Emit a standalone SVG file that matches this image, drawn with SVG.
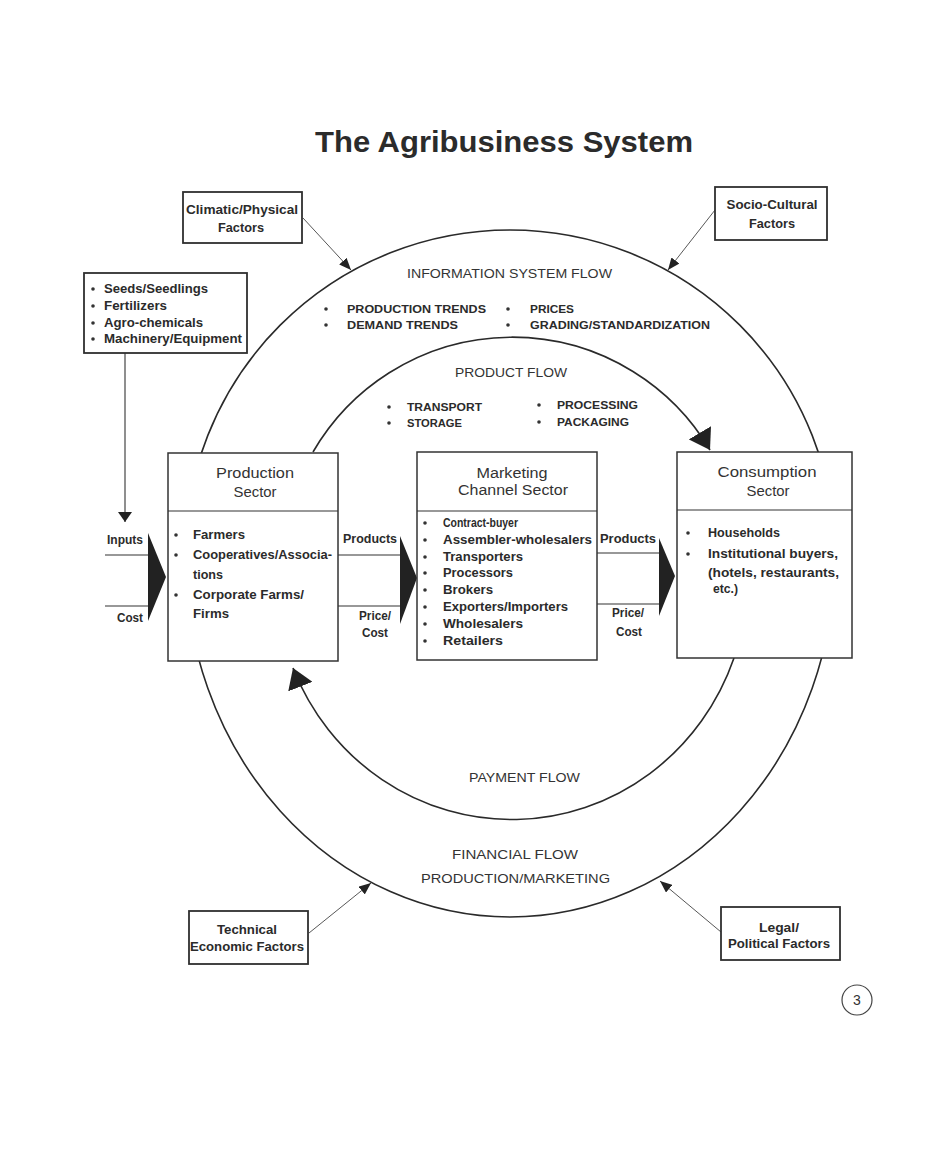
<svg xmlns="http://www.w3.org/2000/svg" width="929" height="1158" viewBox="0 0 929 1158">
  <defs>
    <marker id="bigHead" markerUnits="userSpaceOnUse" markerWidth="22" markerHeight="26" refX="20" refY="13" orient="auto">
      <path d="M0,0 L20,13 L0,26 z" fill="#222"/>
    </marker>
    <marker id="smallHead" markerUnits="userSpaceOnUse" markerWidth="13" markerHeight="10" refX="12" refY="5" orient="auto">
      <path d="M0,0 L12,5 L0,10 z" fill="#222"/>
    </marker>
    <marker id="inHead" markerUnits="userSpaceOnUse" markerWidth="11" markerHeight="14" refX="10" refY="7" orient="auto">
      <path d="M0,0 L10,7 L0,14 z" fill="#222"/>
    </marker>
  </defs>
  <style>
    .ring { fill: none; stroke: #2a2a2a; stroke-width: 1.6; }
    .ln { fill: none; stroke: #333; stroke-width: 1.1; }
    .thin { fill: none; stroke: #444; stroke-width: 0.9; }
    .box { fill: #fff; stroke: #333; stroke-width: 1.5; }
    .fbox { fill: #fff; stroke: #2f2f2f; stroke-width: 1.8; }
    .tri { fill: #222; }
    .dot { fill: #333; }
    .b { font-family: "Liberation Sans", Arial, sans-serif; font-weight: bold; fill: #2b2b2b; }
    .r { font-family: "Liberation Sans", Arial, sans-serif; fill: #333; }
    .fs12 { font-size: 12px; }
    .fs13 { font-size: 13px; }
    .fs14 { font-size: 14px; }
    .mid { text-anchor: middle; }
  </style>

  <rect width="929" height="1158" fill="#fff"/>

  <!-- heading -->
  <g id="title">
    <text class="b mid" x="504" y="152" font-size="30" fill="#222" textLength="378" lengthAdjust="spacingAndGlyphs">The Agribusiness System</text>
  </g>

  <!-- flows, rings and arrows -->
  <g id="connectors">
    <!-- outer information / financial ring -->
    <path class="ring" d="M185,555 A325,325 0 0 1 835,555 A325,362 0 0 1 185,555 Z"/>
    <!-- product flow arc -->
    <path class="ring" d="M313,452 A230,230 0 0 1 710,450" marker-end="url(#bigHead)"/>
    <!-- payment flow arc -->
    <path class="ring" d="M734,658 A236,243 0 0 1 293,668" marker-end="url(#bigHead)"/>

    <!-- external factor arrows -->
    <path class="thin" d="M303,218 L351,270" marker-end="url(#smallHead)"/>
    <path class="thin" d="M715,210 L668,270" marker-end="url(#smallHead)"/>
    <path class="thin" d="M309,933 L371,883" marker-end="url(#smallHead)"/>
    <path class="thin" d="M721,932 L660,881" marker-end="url(#smallHead)"/>

    <!-- inputs drop -->
    <path class="ln" d="M125,353 L125,522" marker-end="url(#inHead)"/>

    <!-- inputs / cost into production -->
    <path class="ln" d="M105,555 L149,555 M105,606 L149,606"/>
    <polygon class="tri" points="148,533 166,577 148,621"/>
    <!-- products / price between production and marketing -->
    <path class="ln" d="M338,555 L401,555 M338,606 L401,606"/>
    <polygon class="tri" points="400,536 417,578 400,624"/>
    <!-- products / price between marketing and consumption -->
    <path class="ln" d="M597,553 L660,553 M597,604 L660,604"/>
    <polygon class="tri" points="659,538 675,576 659,616"/>
  </g>

  <!-- flow labels -->
  <g id="flow-labels">
    <text class="r fs13" x="407" y="278" textLength="205" lengthAdjust="spacingAndGlyphs">INFORMATION SYSTEM FLOW</text>
    <circle class="dot" cx="326" cy="309" r="1.8"/>
    <text class="b" font-size="11.5" x="347" y="313" textLength="139" lengthAdjust="spacingAndGlyphs">PRODUCTION TRENDS</text>
    <circle class="dot" cx="326" cy="325" r="1.8"/>
    <text class="b" font-size="11.5" x="347" y="329" textLength="111" lengthAdjust="spacingAndGlyphs">DEMAND TRENDS</text>
    <circle class="dot" cx="508" cy="309" r="1.8"/>
    <text class="b" font-size="11.5" x="530" y="313" textLength="44" lengthAdjust="spacingAndGlyphs">PRICES</text>
    <circle class="dot" cx="508" cy="325" r="1.8"/>
    <text class="b" font-size="11.5" x="530" y="329" textLength="180" lengthAdjust="spacingAndGlyphs">GRADING/STANDARDIZATION</text>

    <text class="r fs13" x="455" y="377" textLength="112" lengthAdjust="spacingAndGlyphs">PRODUCT FLOW</text>
    <circle class="dot" cx="389" cy="407" r="1.8"/>
    <text class="b" font-size="11.5" x="407" y="411" textLength="75" lengthAdjust="spacingAndGlyphs">TRANSPORT</text>
    <circle class="dot" cx="389" cy="423" r="1.8"/>
    <text class="b" font-size="11.5" x="407" y="427" textLength="55" lengthAdjust="spacingAndGlyphs">STORAGE</text>
    <circle class="dot" cx="539" cy="405" r="1.8"/>
    <text class="b" font-size="11.5" x="557" y="409" textLength="81" lengthAdjust="spacingAndGlyphs">PROCESSING</text>
    <circle class="dot" cx="539" cy="422" r="1.8"/>
    <text class="b" font-size="11.5" x="557" y="426" textLength="72" lengthAdjust="spacingAndGlyphs">PACKAGING</text>

    <text class="r fs13" x="469" y="782" textLength="111" lengthAdjust="spacingAndGlyphs">PAYMENT FLOW</text>
    <text class="r fs13" x="452" y="859" textLength="126" lengthAdjust="spacingAndGlyphs">FINANCIAL FLOW</text>
    <text class="r fs13" x="421" y="883" textLength="189" lengthAdjust="spacingAndGlyphs">PRODUCTION/MARKETING</text>

    <text class="b fs12 mid" x="125" y="544" textLength="36" lengthAdjust="spacingAndGlyphs">Inputs</text>
    <text class="b fs12 mid" x="130" y="622" textLength="26" lengthAdjust="spacingAndGlyphs">Cost</text>
    <text class="b fs12 mid" x="370" y="543" textLength="54" lengthAdjust="spacingAndGlyphs">Products</text>
    <text class="b fs12 mid" x="375" y="620" textLength="32" lengthAdjust="spacingAndGlyphs">Price/</text>
    <text class="b fs12 mid" x="375" y="637" textLength="26" lengthAdjust="spacingAndGlyphs">Cost</text>
    <text class="b fs12 mid" x="628" y="543" textLength="56" lengthAdjust="spacingAndGlyphs">Products</text>
    <text class="b fs12 mid" x="628" y="617" textLength="32" lengthAdjust="spacingAndGlyphs">Price/</text>
    <text class="b fs12 mid" x="629" y="636" textLength="26" lengthAdjust="spacingAndGlyphs">Cost</text>
  </g>

  <!-- external factors -->
  <g id="climatic-physical">
    <rect class="fbox" x="183" y="192" width="119" height="51"/>
    <text class="b fs12 mid" x="242" y="214" textLength="112" lengthAdjust="spacingAndGlyphs">Climatic/Physical</text>
    <text class="b fs12 mid" x="241" y="232" textLength="46" lengthAdjust="spacingAndGlyphs">Factors</text>
  </g>
  <g id="socio-cultural">
    <rect class="fbox" x="715" y="187" width="112" height="53"/>
    <text class="b fs12 mid" x="772" y="209" textLength="91" lengthAdjust="spacingAndGlyphs">Socio-Cultural</text>
    <text class="b fs12 mid" x="772" y="228" textLength="46" lengthAdjust="spacingAndGlyphs">Factors</text>
  </g>
  <g id="technical-economic">
    <rect class="fbox" x="189" y="911" width="119" height="53"/>
    <text class="b fs12 mid" x="247" y="934" textLength="60" lengthAdjust="spacingAndGlyphs">Technical</text>
    <text class="b fs12 mid" x="247" y="951" textLength="114" lengthAdjust="spacingAndGlyphs">Economic Factors</text>
  </g>
  <g id="legal-political">
    <rect class="fbox" x="721" y="907" width="119" height="53"/>
    <text class="b fs12 mid" x="779" y="932" textLength="40" lengthAdjust="spacingAndGlyphs">Legal/</text>
    <text class="b fs12 mid" x="779" y="948" textLength="102" lengthAdjust="spacingAndGlyphs">Political Factors</text>
  </g>

  <!-- inputs list -->
  <g id="inputs">
    <rect class="fbox" x="84" y="273" width="163" height="80"/>
    <circle class="dot" cx="93" cy="289" r="1.8"/>
    <text class="b fs12" x="104" y="293" textLength="104" lengthAdjust="spacingAndGlyphs">Seeds/Seedlings</text>
    <circle class="dot" cx="93" cy="306" r="1.8"/>
    <text class="b fs12" x="104" y="310" textLength="63" lengthAdjust="spacingAndGlyphs">Fertilizers</text>
    <circle class="dot" cx="93" cy="323" r="1.8"/>
    <text class="b fs12" x="104" y="327" textLength="99" lengthAdjust="spacingAndGlyphs">Agro-chemicals</text>
    <circle class="dot" cx="93" cy="339" r="1.8"/>
    <text class="b fs12" x="104" y="343" textLength="138" lengthAdjust="spacingAndGlyphs">Machinery/Equipment</text>
  </g>

  <!-- sectors -->
  <g id="production-sector">
    <rect class="box" x="168" y="453" width="170" height="208"/>
    <line class="ln" x1="168" y1="511" x2="338" y2="511"/>
    <text class="r fs14 mid" x="255" y="478" textLength="78" lengthAdjust="spacingAndGlyphs">Production</text>
    <text class="r fs14 mid" x="255" y="497" textLength="43" lengthAdjust="spacingAndGlyphs">Sector</text>
    <circle class="dot" cx="176" cy="535" r="1.8"/>
    <text class="b fs13" x="193" y="539" textLength="52" lengthAdjust="spacingAndGlyphs">Farmers</text>
    <circle class="dot" cx="176" cy="555" r="1.8"/>
    <text class="b fs13" x="193" y="559" textLength="139" lengthAdjust="spacingAndGlyphs">Cooperatives/Associa-</text>
    <text class="b fs13" x="193" y="579" textLength="30" lengthAdjust="spacingAndGlyphs">tions</text>
    <circle class="dot" cx="176" cy="595" r="1.8"/>
    <text class="b fs13" x="193" y="599" textLength="111" lengthAdjust="spacingAndGlyphs">Corporate Farms/</text>
    <text class="b fs13" x="193" y="618" textLength="36" lengthAdjust="spacingAndGlyphs">Firms</text>
  </g>

  <g id="marketing-channel-sector">
    <rect class="box" x="417" y="452" width="180" height="208"/>
    <line class="ln" x1="417" y1="511" x2="597" y2="511"/>
    <text class="r fs14 mid" x="512" y="478" textLength="71" lengthAdjust="spacingAndGlyphs">Marketing</text>
    <text class="r fs14 mid" x="513" y="495" textLength="110" lengthAdjust="spacingAndGlyphs">Channel Sector</text>
    <circle class="dot" cx="425" cy="523" r="1.8"/>
    <text class="b fs12" x="443" y="527" textLength="75" lengthAdjust="spacingAndGlyphs">Contract-buyer</text>
    <circle class="dot" cx="425" cy="540" r="1.8"/>
    <text class="b fs12" x="443" y="544" textLength="149" lengthAdjust="spacingAndGlyphs">Assembler-wholesalers</text>
    <circle class="dot" cx="425" cy="557" r="1.8"/>
    <text class="b fs12" x="443" y="561" textLength="80" lengthAdjust="spacingAndGlyphs">Transporters</text>
    <circle class="dot" cx="425" cy="573" r="1.8"/>
    <text class="b fs12" x="443" y="577" textLength="70" lengthAdjust="spacingAndGlyphs">Processors</text>
    <circle class="dot" cx="425" cy="590" r="1.8"/>
    <text class="b fs12" x="443" y="594" textLength="50" lengthAdjust="spacingAndGlyphs">Brokers</text>
    <circle class="dot" cx="425" cy="607" r="1.8"/>
    <text class="b fs12" x="443" y="611" textLength="125" lengthAdjust="spacingAndGlyphs">Exporters/Importers</text>
    <circle class="dot" cx="425" cy="624" r="1.8"/>
    <text class="b fs12" x="443" y="628" textLength="80" lengthAdjust="spacingAndGlyphs">Wholesalers</text>
    <circle class="dot" cx="425" cy="641" r="1.8"/>
    <text class="b fs12" x="443" y="645" textLength="60" lengthAdjust="spacingAndGlyphs">Retailers</text>
  </g>

  <g id="consumption-sector">
    <rect class="box" x="677" y="452" width="175" height="206"/>
    <line class="ln" x1="677" y1="510" x2="852" y2="510"/>
    <text class="r fs14 mid" x="767" y="477" textLength="99" lengthAdjust="spacingAndGlyphs">Consumption</text>
    <text class="r fs14 mid" x="768" y="496" textLength="43" lengthAdjust="spacingAndGlyphs">Sector</text>
    <circle class="dot" cx="688" cy="533" r="1.8"/>
    <text class="b fs12" x="708" y="537" textLength="72" lengthAdjust="spacingAndGlyphs">Households</text>
    <circle class="dot" cx="688" cy="554" r="1.8"/>
    <text class="b fs12" x="708" y="558" textLength="130" lengthAdjust="spacingAndGlyphs">Institutional buyers,</text>
    <text class="b fs12" x="708" y="577" textLength="131" lengthAdjust="spacingAndGlyphs">(hotels, restaurants,</text>
    <text class="b fs12" x="713" y="593" textLength="25" lengthAdjust="spacingAndGlyphs">etc.)</text>
  </g>

  <!-- page number -->
  <g id="page-number">
    <circle cx="857" cy="1000" r="15" fill="none" stroke="#444" stroke-width="1.2"/>
    <text class="r fs14 mid" x="857" y="1005">3</text>
  </g>
</svg>
